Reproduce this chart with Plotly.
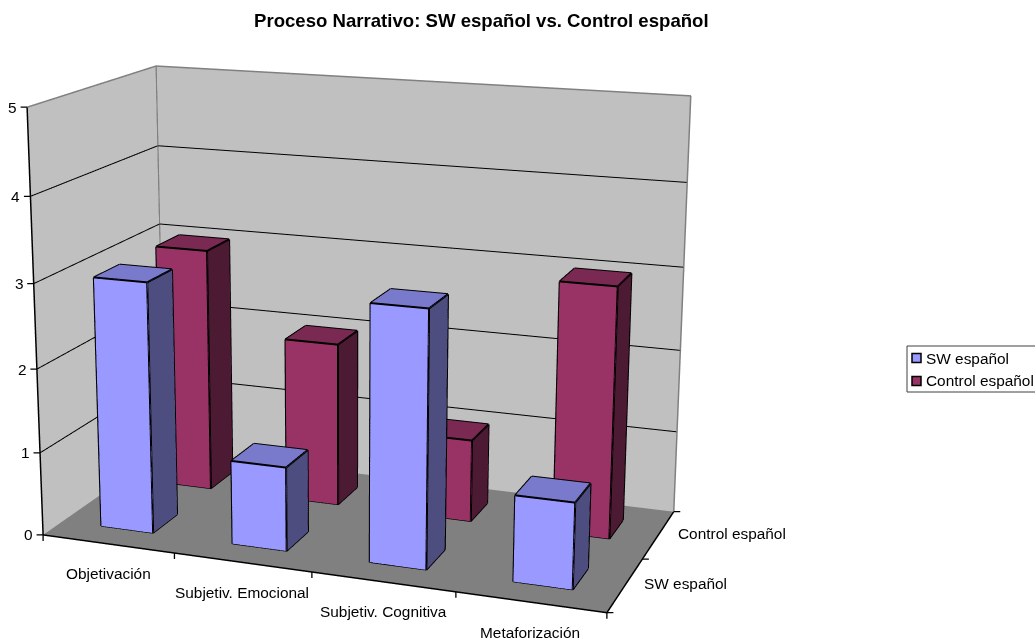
import plotly.graph_objects as go

# Chart data
categories = ["Objetivación", "Subjetiv. Emocional", "Subjetiv. Cognitiva", "Metaforización"]
series_names = ["SW español", "Control español"]
sw_values = [3, 1, 3, 1]
control_values = [3, 2, 1, 3]
value_ticks = [0, 1, 2, 3, 4, 5]

# Face colours: front, top, side
series_colors = [("#9999FF", "#7A7ACC", "#4D4D80"), ("#993366", "#7A2952", "#4D1A33")]

# Canvas geometry: a tall scene gives the long lens of the 3D view
FIG_W, FIG_H = 1384, 1814
OFF_X, OFF_Y = -348, -590
FONT = "Liberation Sans"
LABEL_SIZE = 15.4
TITLE_SIZE = 18.6
BAR_HALF = 0.2
TICK_PX = 8

N_CAT, N_SER, Z_MAX = len(categories), len(series_names), value_ticks[-1]


def bar_mesh(values, j, colors):
    xs, ys, zs, ii, jj, kk, fc = [], [], [], [], [], [], []
    front, top, side = colors
    lx, ly, lz = [], [], []
    for i, v in enumerate(values):
        x0, x1 = i + 0.5 - BAR_HALF, i + 0.5 + BAR_HALF
        y0, y1 = j + 0.5 - BAR_HALF, j + 0.5 + BAR_HALF
        b = len(xs)
        corners = [(x0, y0, 0), (x1, y0, 0), (x1, y1, 0), (x0, y1, 0),
                   (x0, y0, v), (x1, y0, v), (x1, y1, v), (x0, y1, v)]
        for c in corners:
            xs.append(c[0]); ys.append(c[1]); zs.append(c[2])
        quads = [((0, 1, 5, 4), front), ((4, 5, 6, 7), top), ((1, 2, 6, 5), side),
                 ((0, 3, 7, 4), side), ((3, 2, 6, 7), front)]
        for (p, q, r, s), col in quads:
            ii += [b + p, b + p]; jj += [b + q, b + r]; kk += [b + r, b + s]; fc += [col, col]
        for a, c in [(0, 1), (1, 2), (2, 3), (3, 0), (4, 5), (5, 6), (6, 7), (7, 4),
                     (0, 4), (1, 5), (2, 6), (3, 7)]:
            lx += [corners[a][0], corners[c][0], None]
            ly += [corners[a][1], corners[c][1], None]
            lz += [corners[a][2], corners[c][2], None]
    mesh = go.Mesh3d(x=xs, y=ys, z=zs, i=ii, j=jj, k=kk, facecolor=fc, flatshading=True,
                     lighting=dict(ambient=1, diffuse=0, specular=0, roughness=1, fresnel=0),
                     hoverinfo="skip", showscale=False)
    edges = go.Scatter3d(x=lx, y=ly, z=lz, mode="lines", line=dict(color="black", width=4),
                         hoverinfo="skip", showlegend=False)
    return mesh, edges


def polyline(pts, color, width):
    return go.Scatter3d(x=[p[0] for p in pts], y=[p[1] for p in pts], z=[p[2] for p in pts],
                        mode="lines", line=dict(color=color, width=width),
                        hoverinfo="skip", showlegend=False)


fig = go.Figure()

# Grid lines across the two walls
for t in value_ticks[1:-1]:
    fig.add_trace(polyline([(0, 0, t), (0, N_SER, t), (N_CAT, N_SER, t)], "black", 2))

# Wall outlines and the front edges of the floor
fig.add_trace(polyline([(0, 0, Z_MAX), (0, N_SER, Z_MAX), (N_CAT, N_SER, Z_MAX), (N_CAT, N_SER, 0)], "#808080", 3))
fig.add_trace(polyline([(0, N_SER, Z_MAX), (0, N_SER, 0)], "#808080", 3))
fig.add_trace(polyline([(0, 0, Z_MAX), (0, 0, 0), (N_CAT, 0, 0), (N_CAT, N_SER, 0)], "black", 3))

for j, values in enumerate([sw_values, control_values]):
    mesh, edges = bar_mesh(values, j, series_colors[j])
    fig.add_trace(mesh)
    fig.add_trace(edges)

label_font = dict(family=FONT, size=LABEL_SIZE, color="black")


def tick_mark(x, y, z, ax, ay):
    # A short stub anchored at an axis position, offset in screen pixels
    return dict(x=x, y=y, z=z, text=" ", font=dict(size=1), showarrow=True, arrowhead=0,
                arrowwidth=1.3, arrowcolor="black", standoff=0, ax=ax, ay=ay)


scene_notes = []
for i, name in enumerate(categories):
    scene_notes.append(dict(x=i + 0.5, y=0, z=0, text=name, showarrow=False, yshift=-30,
                            xanchor="center", yanchor="middle", font=label_font))
for j, name in enumerate(series_names):
    scene_notes.append(dict(x=N_CAT, y=j + 0.5, z=0, text=name, showarrow=False, xshift=17, yshift=1.5,
                            xanchor="left", yanchor="middle", font=label_font))
for t in value_ticks:
    scene_notes.append(dict(x=0, y=0, z=t, text=str(t), showarrow=False, xshift=-8,
                            xanchor="right", yanchor="middle", font=label_font))
    scene_notes.append(tick_mark(0, 0, t, -TICK_PX, 0))
for i in range(N_CAT + 1):
    scene_notes.append(tick_mark(i, 0, 0, 0, TICK_PX))
for j in range(N_SER + 1):
    scene_notes.append(tick_mark(N_CAT, j, 0, TICK_PX, 0))

axis_common = dict(title="", showticklabels=False, showgrid=False, zeroline=False, showspikes=False,
                   ticks="", tickmode="array", showline=False)


def px(x):
    return (x - OFF_X) / FIG_W


def py(y):
    return 1 - (y - OFF_Y) / FIG_H


shapes = [dict(type="rect", xref="paper", yref="paper", x0=px(907), x1=px(1040), y0=py(346), y1=py(392),
               line=dict(color="#404040", width=1), fillcolor="white")]
notes = [dict(xref="paper", yref="paper", x=px(481), y=py(21),
              text="<b>Proceso Narrativo: SW español vs. Control español</b>",
              showarrow=False, xanchor="center", yanchor="middle",
              font=dict(family=FONT, size=TITLE_SIZE, color="black"))]
for name, y, colors in zip(series_names, [358, 381], series_colors):
    shapes.append(dict(type="rect", xref="paper", yref="paper", x0=px(912), x1=px(921), y0=py(y - 4.5), y1=py(y + 4.5),
                       line=dict(color="black", width=1.5), fillcolor=colors[0]))
    notes.append(dict(xref="paper", yref="paper", x=px(924), y=py(y), text=name, showarrow=False,
                      xanchor="left", yanchor="middle", font=label_font))

fig.update_layout(
    width=FIG_W, height=FIG_H, margin=dict(l=0, r=0, t=0, b=0), paper_bgcolor="white",
    showlegend=False, shapes=shapes, annotations=notes,
    scene=dict(
        domain=dict(x=[0, 1], y=[0, 1]),
        xaxis=dict(axis_common, range=[0, N_CAT], tickvals=list(range(N_CAT + 1)),
                   showbackground=True, backgroundcolor="#C0C0C0"),
        yaxis=dict(axis_common, range=[0, N_SER], tickvals=list(range(N_SER + 1)),
                   showbackground=True, backgroundcolor="#C0C0C0"),
        zaxis=dict(axis_common, range=[0, Z_MAX], tickvals=value_ticks,
                   showbackground=True, backgroundcolor="#808080"),
        aspectmode="manual", aspectratio=dict(x=1, y=0.4977, z=0.7483),
        camera=dict(eye=dict(x=1.2355, y=-3.4162, z=0.9638),
                    center=dict(x=-0.0320, y=-0.0103, z=0.0008),
                    up=dict(x=0, y=0, z=1),
                    projection=dict(type="perspective")),
        annotations=scene_notes,
    ),
)

# Slide the oversized plot so the chart area sits inside the page
place_plot = (
    "var gd = document.getElementById('{plot_id}');"
    "gd.style.position = 'absolute';"
    "gd.style.left = '%dpx'; gd.style.top = '%dpx';"
    "document.documentElement.style.overflow = 'hidden';"
    "document.body.style.overflow = 'hidden';"
) % (OFF_X, OFF_Y)

fig.write_html("out.html", post_script=place_plot, config=dict(displayModeBar=False))
